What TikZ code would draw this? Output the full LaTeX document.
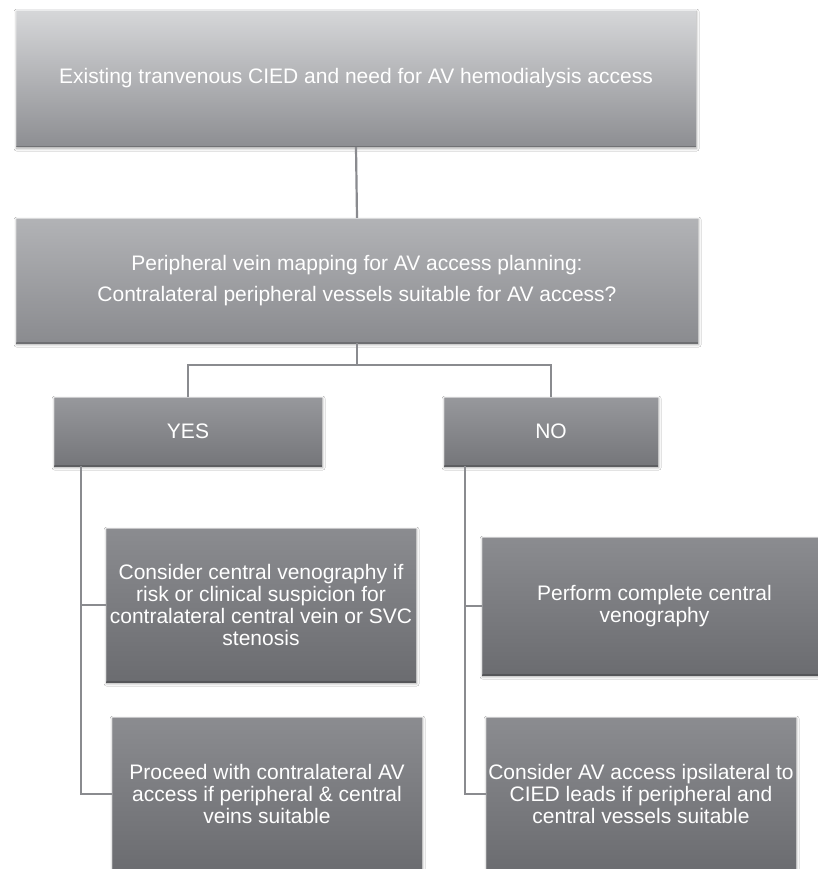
\documentclass[tikz,border=0pt]{standalone}
\usepackage{fontspec}
\setmainfont{Liberation Sans}
\usetikzlibrary{shadows.blur}
\definecolor{boxAtop}{HTML}{D6D7D9}
\definecolor{boxAbot}{HTML}{8D8E92}
\definecolor{boxBtop}{HTML}{B2B3B6}
\definecolor{boxBbot}{HTML}{8A8B8F}
\definecolor{boxCtop}{HTML}{97989C}
\definecolor{boxCbot}{HTML}{75767A}
\definecolor{boxDtop}{HTML}{8B8C90}
\definecolor{boxDbot}{HTML}{6B6C70}
\definecolor{connclr}{HTML}{8A8B8F}
\tikzset{
  flowbox/.style={rectangle, inner sep=0pt, align=center, text=white,
    blur shadow={shadow xshift=0.6pt, shadow yshift=-1.6pt,
      shadow blur radius=2.5pt, shadow blur steps=6, shadow opacity=35},
    path picture={
      \draw[white, opacity=0.5, line width=2.4pt]
        (path picture bounding box.north west) -- (path picture bounding box.north east);
      \draw[white, opacity=0.2, line width=2pt]
        (path picture bounding box.north west) -- (path picture bounding box.south west);
      \draw[black, opacity=0.2, line width=2pt]
        (path picture bounding box.south west) -- (path picture bounding box.south east);
    }},
  toplevel/.style={flowbox, top color=boxAtop, bottom color=boxAbot,
    font=\fontsize{21}{31}\selectfont},
  secondlevel/.style={flowbox, top color=boxBtop, bottom color=boxBbot,
    font=\fontsize{21}{31}\selectfont},
  answerbox/.style={flowbox, top color=boxCtop, bottom color=boxCbot,
    font=\fontsize{21}{22}\selectfont},
  actionbox/.style={flowbox, top color=boxDtop, bottom color=boxDbot,
    font=\fontsize{21}{22}\selectfont},
  conn/.style={draw=connclr, line width=2.2pt}
}
\begin{document}
\begin{tikzpicture}[x=1pt,y=-1pt]
\useasboundingbox (0,0) rectangle (818,869);
\clip (0,0) rectangle (818,869);
\fill[white] (0,0) rectangle (818,869);

\node[toplevel, minimum width=680pt, minimum height=137pt] (start) at (356,78.5)
  {Existing tranvenous CIED and need for AV hemodialysis access};
\node[secondlevel, minimum width=682pt, minimum height=125pt] (map) at (357,280.5)
  {Peripheral vein mapping for AV access planning:\\Contralateral peripheral vessels suitable for AV access?};

\node[answerbox, minimum width=268pt, minimum height=69pt] (yes) at (188,431.5) {YES};
\node[answerbox, minimum width=214pt, minimum height=69pt] (no) at (551,431.5) {NO};

\node[actionbox, minimum width=310pt, minimum height=154pt] (y1) at (261,605)
  {Consider central venography if\\risk or clinical suspicion for\\contralateral central vein or SVC\\stenosis};
\node[actionbox, minimum width=310pt, minimum height=154pt] (y2) at (267,794)
  {Proceed with contralateral AV\\access if peripheral \& central\\veins suitable};
\node[actionbox, minimum width=345pt, minimum height=138pt] (n1) at (654.5,606)
  {Perform complete central\\venography};
\node[actionbox, minimum width=310pt, minimum height=154pt] (n2) at (641,794)
  {Consider AV access ipsilateral to\\CIED leads if peripheral and\\central vessels suitable};

\coordinate (split) at (357,365);

\draw[conn] (start.south) -- (map.north);
\draw[conn] (map.south) -- (split);
\draw[conn] (yes.north) |- (split) -| (no.north);
\draw[conn] ([xshift=27pt]yes.south west) |- (y1.west);
\draw[conn] ([xshift=27pt]yes.south west) |- (y2.west);
\draw[conn] ([xshift=21pt]no.south west) |- (n1.west);
\draw[conn] ([xshift=21pt]no.south west) |- (n2.west);
\end{tikzpicture}
\end{document}
